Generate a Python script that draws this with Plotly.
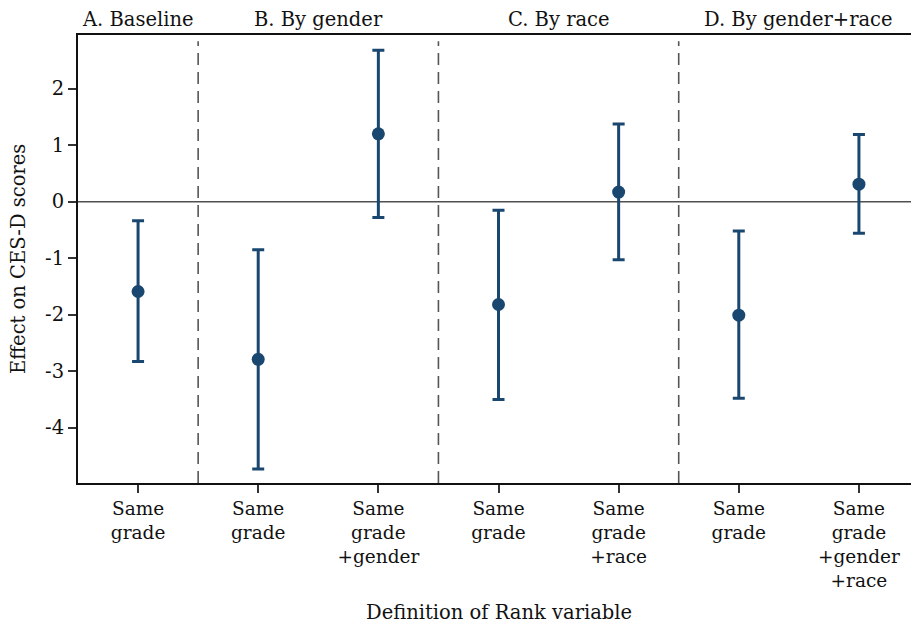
import plotly.graph_objects as go

categories = ["Same<br>grade", "Same<br>grade", "Same<br>grade<br>+gender",
              "Same<br>grade", "Same<br>grade<br>+race",
              "Same<br>grade", "Same<br>grade<br>+gender<br>+race"]
positions = [1, 2, 3, 4, 5, 6, 7]
estimates = [-1.59, -2.79, 1.20, -1.82, 0.17, -2.01, 0.31]
upper_ci = [-0.34, -0.85, 2.68, -0.15, 1.375, -0.52, 1.19]
lower_ci = [-2.83, -4.73, -0.28, -3.50, -1.03, -3.48, -0.56]
panel_titles = ["A. Baseline", "B. By gender", "C. By race", "D. By gender+race"]
panel_centers = [1, 2.5, 4.5, 6.5]
separators = [1.5, 3.5, 5.5]
y_ticks = [-4, -3, -2, -1, 0, 1, 2]
y_tick_labels = ["-4", "-3", "-2", "-1", "0", "1", "2"]

NAVY = "#1a476f"
FONT = "DejaVu Serif"
TXT = "#111111"
FS = 19.5

plus = [u - e for u, e in zip(upper_ci, estimates)]
minus = [e - l for e, l in zip(estimates, lower_ci)]

fig = go.Figure()
fig.add_trace(go.Scatter(
    x=positions, y=estimates, mode="markers",
    marker=dict(color=NAVY, size=13),
    error_y=dict(type="data", array=plus, arrayminus=minus, symmetric=False,
                 color=NAVY, thickness=3, width=6),
    showlegend=False,
))

y_min, y_max = -4.98, 2.95

for s in separators:
    fig.add_shape(type="line", x0=s, x1=s, y0=y_min, y1=2.84, xref="x", yref="y",
                  line=dict(color="#555555", width=1.6, dash="12px,7px"), layer="below")

fig.add_shape(type="line", x0=0, x1=1, xref="paper", y0=0, y1=0, yref="y",
              line=dict(color="#505050", width=1.5), layer="below")

for t, c in zip(panel_titles, panel_centers):
    fig.add_annotation(x=c, xref="x", y=1, yref="paper", yshift=16, text=t,
                       showarrow=False, font=dict(family=FONT, size=FS, color=TXT),
                       yanchor="middle")

fig.add_annotation(x=0.5, xref="paper", y=0, yref="paper", yshift=-129,
                   text="Definition of Rank variable", showarrow=False,
                   font=dict(family=FONT, size=FS, color=TXT), yanchor="middle")
fig.add_annotation(x=0, xref="paper", xshift=-60, y=0.5, yref="paper",
                   text="Effect on CES-D scores", showarrow=False, textangle=-90,
                   font=dict(family=FONT, size=FS, color=TXT), xanchor="center")

# page body has an 8px margin; compensate so the plot area lands where the reference has it
fig.update_layout(
    width=911, height=620,
    margin=dict(l=70, r=0, t=27, b=145),
    plot_bgcolor="white", paper_bgcolor="white",
    font=dict(family=FONT, size=FS, color=TXT),
    xaxis=dict(
        range=[0.5, 7.5], tickmode="array", tickvals=positions, ticktext=categories,
        showline=True, linecolor=TXT, linewidth=2, mirror=True,
        ticks="outside", ticklen=8, tickwidth=1.5, tickcolor="#333333",
        showgrid=False, zeroline=False, automargin=False,
        tickfont=dict(family=FONT, size=18.5, color=TXT),
    ),
    yaxis=dict(
        range=[y_min, y_max], tickmode="array", tickvals=y_ticks, ticktext=y_tick_labels,
        showline=True, linecolor=TXT, linewidth=2,
        ticks="outside", ticklen=8, tickwidth=1.5, tickcolor="#333333",
        showgrid=False, zeroline=False, automargin=False,
        tickfont=dict(family=FONT, size=FS, color=TXT),
    ),
)

fig.write_html("out.html")
